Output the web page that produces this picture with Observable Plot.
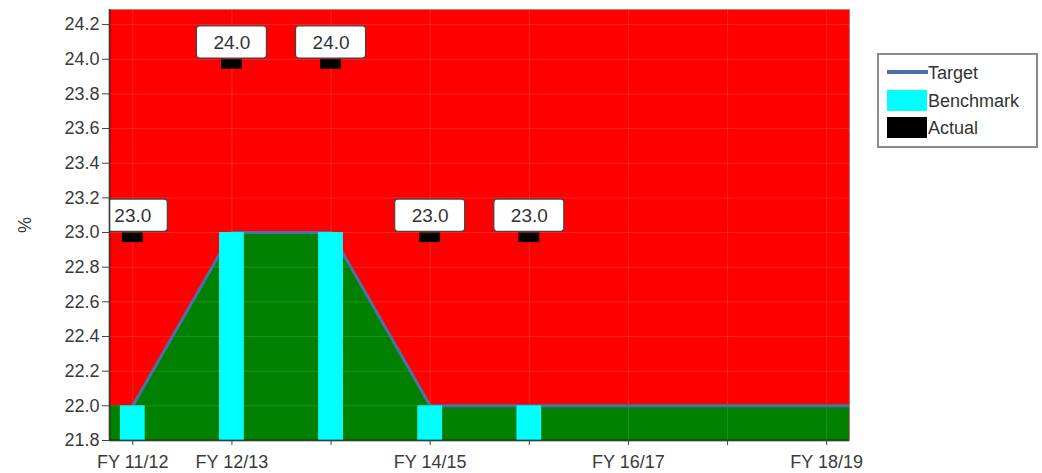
<!DOCTYPE html>
<html>
<head>
<meta charset="utf-8">
<script src="https://cdn.jsdelivr.net/npm/d3@7"></script>
<script src="https://cdn.jsdelivr.net/npm/@observablehq/plot@0.6"></script>
<style>
  html, body { margin: 0; padding: 0; background: #fff; }
  #wrap { position: relative; width: 1042px; height: 473px; }
  #legend { position: absolute; left: 877px; top: 53px; }
</style>
</head>
<body>
<div id="wrap"><div id="chart"></div><div id="legend"></div></div>
<script>
const categories = ["FY 11/12", "FY 12/13", "FY 13/14", "FY 14/15", "FY 15/16", "FY 16/17", "FY 17/18", "FY 18/19"];
const tickLabels = ["FY 11/12", "FY 12/13", "FY 14/15", "FY 16/17", "FY 18/19"];
const target = [22.0, 23.0, 23.0, 22.0, 22.0, 22.0, 22.0, 22.0];
const benchmark = [22.0, 23.0, 23.0, 22.0, 22.0];
const actual = [23.0, 24.0, 24.0, 23.0, 23.0];
const yTicks = [21.8, 22.0, 22.2, 22.4, 22.6, 22.8, 23.0, 23.2, 23.4, 23.6, 23.8, 24.0, 24.2];
const seriesNames = ["Target", "Benchmark", "Actual"];

const colors = { red: "#ff0000", green: "#008000", cyan: "#00ffff", black: "#000000", line: "#4a72a8" };
const xDomain = [-0.235, 7.23];
const yDomain = [21.8, 24.287];
const yMin = yDomain[0];

const targetPts = target.map((v, i) => ({ x: i, v }));
const areaPts = [{ x: xDomain[0], v: target[0] }, ...targetPts, { x: xDomain[1], v: target[target.length - 1] }];
const linePts = [...targetPts, { x: xDomain[1], v: target[target.length - 1] }];
const benchPts = benchmark.map((v, i) => ({ x: i, v }));
const actualPts = actual.map((v, i) => ({ x: i, v, label: v.toFixed(1) }));

const barHalf = 0.125;
const markHalf = 0.105;
const boxHalf = 0.353;
const boxH = 0.19;

const chart = Plot.plot({
  width: 1042,
  height: 473,
  marginLeft: 109,
  marginRight: 193,
  marginTop: 9,
  marginBottom: 33,
  style: { fontFamily: "Liberation Sans, Arial, sans-serif", fontSize: "18px", color: "#3a3a3a", background: "transparent" },
  x: { type: "linear", domain: xDomain },
  y: { domain: yDomain },
  marks: [
    Plot.frame({ fill: colors.red }),
    Plot.areaY(areaPts, { x: "x", y1: () => yMin, y2: "v", fill: colors.green }),
    Plot.gridY(yTicks, { stroke: "white", strokeOpacity: 0.13 }),
    Plot.gridX(d3.range(categories.length), { stroke: "white", strokeOpacity: 0.13 }),
    Plot.line(linePts, { x: "x", y: "v", stroke: colors.line, strokeWidth: 3, clip: true }),
    Plot.rect(benchPts, { x1: d => d.x - barHalf, x2: d => d.x + barHalf, y1: () => yMin, y2: "v", fill: colors.cyan }),
    Plot.rect(actualPts, { x1: d => d.x - markHalf, x2: d => d.x + markHalf, y1: d => d.v - 0.003, y2: d => d.v - 0.058, fill: colors.black }),
    Plot.rect(actualPts, { x1: d => d.x - boxHalf, x2: d => d.x + boxHalf, y1: d => d.v + 0.004, y2: d => d.v + boxH, fill: "white", stroke: "#444", strokeWidth: 1.2, rx: 3, clip: true }),
    Plot.text(actualPts, { x: "x", y: d => d.v + boxH / 2 + 0.002, text: "label", fontSize: 19, fill: "#333" }),
    Plot.ruleY([yMin], { stroke: "black", strokeWidth: 1.5 }),
    Plot.ruleX([xDomain[0]], { stroke: "black", strokeWidth: 1.5 }),
    Plot.frame({ stroke: "#777", strokeOpacity: 0.5 }),
    Plot.axisY({ ticks: yTicks, tickFormat: d => d.toFixed(1), tickSize: 7, tickPadding: 3, label: "%", labelAnchor: "center", labelOffset: 91, labelArrow: "none", fontSize: 18, stroke: "#444" }),
    Plot.axisX({ ticks: d3.range(categories.length), tickFormat: i => tickLabels.includes(categories[i]) ? categories[i] : "", tickSize: 5, tickPadding: 10, label: null, fontSize: 18, stroke: "#444" })
  ]
});
document.getElementById("chart").appendChild(chart);

// Legend
const lg = d3.select("#legend").append("svg").attr("width", 162).attr("height", 96);
lg.append("rect").attr("x", 1).attr("y", 1).attr("width", 159).attr("height", 93)
  .attr("fill", "white").attr("stroke", "#8a8a8a").attr("stroke-width", 2);
const legendItems = [
  { name: seriesNames[0], kind: "line", color: colors.line },
  { name: seriesNames[1], kind: "swatch", color: colors.cyan },
  { name: seriesNames[2], kind: "swatch", color: colors.black }
];
const rowY = [19, 47, 74];
legendItems.forEach((it, k) => {
  const cy = rowY[k];
  if (it.kind === "line") {
    lg.append("line").attr("x1", 10).attr("x2", 51).attr("y1", cy).attr("y2", cy)
      .attr("stroke", it.color).attr("stroke-width", 4);
  } else {
    lg.append("rect").attr("x", 10).attr("y", cy - 10).attr("width", 40).attr("height", 21).attr("fill", it.color);
  }
  lg.append("text").attr("x", 51).attr("y", cy + 7).attr("font-family", "Liberation Sans, Arial, sans-serif")
    .attr("font-size", 18).attr("fill", "#333").text(it.name);
});
</script>
</body>
</html>
